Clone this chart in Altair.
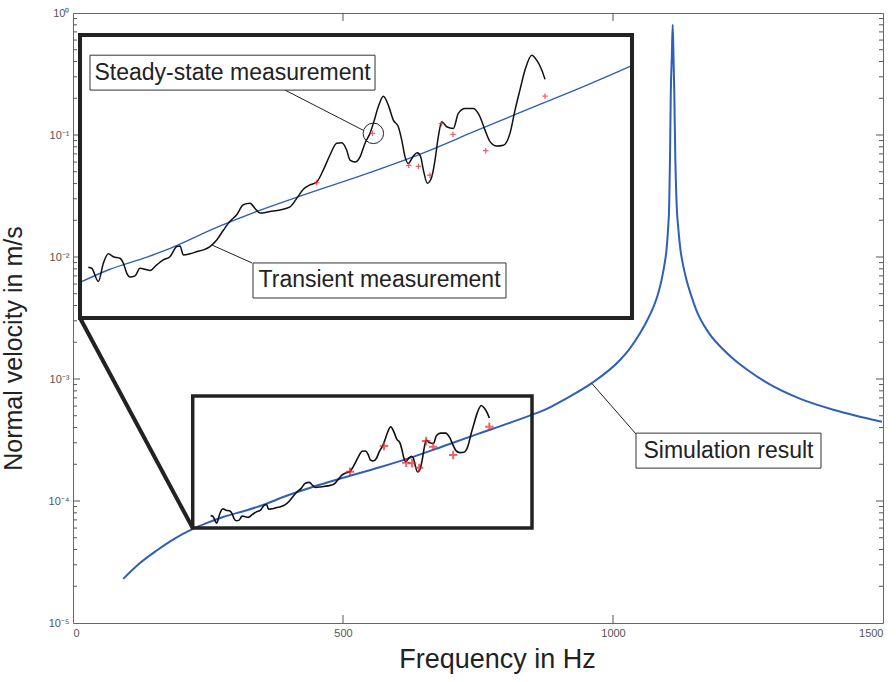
import altair as alt
import pandas as pd

# ---------------- data ----------------
# Simulation result (blue)
sim_freq = [93, 124, 155, 186, 222, 246, 278, 322, 340, 402,
            445, 500, 568, 630, 692, 750, 815, 862, 870, 914,
            960, 1013, 1030, 1050, 1062, 1075, 1083, 1090, 1095, 1099,
            1102, 1104, 1105.5, 1107, 1109, 1110.5, 1112, 1113.5, 1115.5, 1118,
            1121, 1125, 1130, 1136, 1145, 1155, 1177, 1200, 1223, 1250,
            1280, 1346, 1408, 1450, 1498]
sim_vel = [2.30e-5, 3.1e-5, 3.93e-5, 4.85e-5, 5.9e-5, 6.55e-5, 7.4e-5, 8.4e-5, 8.9e-5, 1.13e-4,
           1.31e-4, 1.55e-4, 1.89e-4, 2.30e-4, 2.88e-4, 3.55e-4, 4.47e-4, 5.33e-4, 5.5e-4, 6.95e-4,
           9.2e-4, 1.43e-3, 1.75e-3, 2.37e-3, 2.95e-3, 3.9e-3, 4.9e-3, 6.5e-3, 8.5e-3, 1.14e-2,
           1.7e-2, 2.6e-2, 0.062, 0.22, 0.45, 0.80, 0.45, 0.22, 0.062, 0.026,
           1.7e-2, 1.14e-2, 8.5e-3, 6.5e-3, 4.8e-3, 3.6e-3, 2.4e-3, 1.82e-3, 1.46e-3, 1.18e-3,
           9.6e-4, 6.9e-4, 5.6e-4, 5.0e-4, 4.47e-4]

# Transient measurement (black)
tr_freq = [254.9, 258.8, 266.2, 271.9, 277.5, 283.2, 290.7, 294.5, 298.3, 302.0,
           307.7, 313.3, 319.0, 324.6, 332.2, 339.7, 347.2, 354.8, 358.5, 362.3,
           369.8, 377.4, 384.9, 392.4, 400.0, 407.5, 415.0, 422.6, 430.1, 437.6,
           443.3, 448.9, 460.2, 471.5, 482.8, 490.4, 497.9, 505.4, 513.0, 520.5,
           528.0, 535.6, 541.3, 546.9, 550.6, 556.3, 562.0, 567.6, 573.2, 577.0,
           582.6, 588.3, 593.9, 599.6, 605.2, 609.1, 612.8, 616.5, 622.2, 626.7,
           630.5, 633.5, 638.0, 643.0, 646.7, 650.4, 654.3, 659.9, 667.4, 673.0,
           680.6, 690.0, 697.5, 703.2, 708.8, 716.4, 723.9, 731.4, 737.1, 742.7,
           748.4, 756.0, 761.6, 767.3, 771.0]
tr_vel = [7.59e-5, 7.51e-5, 6.59e-5, 7.89e-5, 8.65e-5, 8.41e-5, 8.28e-5, 7.89e-5, 7.16e-5, 6.89e-5,
          6.97e-5, 7.51e-5, 7.44e-5, 7.34e-5, 7.76e-5, 8.15e-5, 8.41e-5, 9.29e-5, 9.35e-5, 8.55e-5,
          8.65e-5, 8.83e-5, 8.99e-5, 9.29e-5, 9.91e-5, 1.09e-4, 1.19e-4, 1.27e-4, 1.40e-4, 1.42e-4,
          1.35e-4, 1.29e-4, 1.31e-4, 1.33e-4, 1.37e-4, 1.49e-4, 1.63e-4, 1.70e-4, 1.75e-4, 1.97e-4,
          2.28e-4, 2.56e-4, 2.57e-4, 2.39e-4, 2.17e-4, 2.13e-4, 2.24e-4, 2.56e-4, 2.82e-4, 3.11e-4,
          3.66e-4, 4.06e-4, 3.72e-4, 3.21e-4, 3.01e-4, 2.64e-4, 2.24e-4, 2.10e-4, 2.26e-4, 2.33e-4,
          2.24e-4, 1.97e-4, 1.73e-4, 1.84e-4, 2.17e-4, 2.73e-4, 3.16e-4, 3.01e-4, 2.96e-4, 3.43e-4,
          3.60e-4, 3.60e-4, 3.32e-4, 2.91e-4, 2.60e-4, 2.49e-4, 2.51e-4, 2.82e-4, 3.54e-4, 4.32e-4,
          5.25e-4, 6.07e-4, 5.78e-4, 5.25e-4, 4.79e-4]

# Steady-state measurement (red +)
ss_freq = [513, 576, 617, 628, 641, 654, 667, 704, 771]
ss_vel = [1.74e-4, 2.82e-4, 2.06e-4, 2.04e-4, 1.87e-4, 3.10e-4, 2.79e-4, 2.38e-4, 4.06e-4]

# axis ticks
x_major = [0, 500, 1000, 1500]
y_major = [1e-5, 1e-4, 1e-3, 1e-2, 1e-1, 1e0]
y_minor = [m * 10.0 ** e for e in range(-5, 0) for m in range(2, 10)]

# zoom window (small box on main axes) and inset domain
zoom_f = [221.7, 850]
zoom_v = [6.0e-5, 7.26e-4]
inset_f = [245.5, 869.3]
inset_v = [4.61e-5, 7.40e-4]

# annotation anchors
connector = dict(f1=13, v1=3.16e-3, f2=221.7, v2=6.0e-5)
sim_label = dict(text="Simulation result", f1=1042.6, f2=1385.2, v1=1.86e-4, v2=3.60e-4,
                 tf=1213.9, tv=2.57e-4, lf1=960.5, lv1=9.23e-4, lf2=1042.6, lv2=3.54e-4)
ss_label = dict(text="Steady-state measurement", f1=256.8, f2=578.9, v1=4.31e-4, v2=6.07e-4,
                tf=417.9, tv=5.12e-4, lf1=477.2, lv1=4.31e-4, lf2=565.3, lv2=2.91e-4)
tr_label = dict(text="Transient measurement", f1=441.0, f2=726.9, v1=5.61e-5, v2=7.91e-5,
                tf=584.0, tv=6.67e-5, lf1=439.9, lv1=7.91e-5, lf2=394.4, lv2=9.44e-5)
circled = dict(f=577, v=2.82e-4)

# ---------------- chart ----------------
W, H = 810, 610
FONT = "Liberation Sans"
BLUE = "#2f5fb8"
DARK = "#222222"
RED = "#e8232a"

sim_df = pd.DataFrame({"f": sim_freq, "v": sim_vel})
tr_df = pd.DataFrame({"f": tr_freq, "v": tr_vel})
ss_df = pd.DataFrame({"f": ss_freq, "v": ss_vel})

xs_main = alt.Scale(domain=[0, 1500], nice=False, zero=False)
ys_main = alt.Scale(type="log", domain=[1e-5, 1], nice=False)
xs_in = alt.Scale(domain=inset_f, nice=False, zero=False, range=[7, 559])
ys_in = alt.Scale(type="log", domain=inset_v, nice=False, range=[305, 22])

label_expr = ("datum.value >= 0.5 ? '10⁰' : datum.value >= 0.05 ? '10⁻¹' : "
              "datum.value >= 0.005 ? '10⁻²' : datum.value >= 0.0005 ? '10⁻³' : "
              "datum.value >= 0.00005 ? '10⁻⁴' : '10⁻⁵'")

x_axis = alt.Axis(title="Frequency in Hz", values=x_major, format="d", ticks=False, domain=False,
                  grid=False, labelFontSize=11, labelColor="#555", labelFont=FONT, labelPadding=4,
                  titleFont=FONT, titleFontSize=27, titleFontWeight="normal", titleColor=DARK,
                  titlePadding=8, titleX=424)
y_axis = alt.Axis(title="Normal velocity in m/s", values=y_major, labelExpr=label_expr,
                  ticks=False, domain=False, grid=False,
                  labelFontSize=11, labelColor="#555", labelFont=FONT, labelPadding=4,
                  titleFont=FONT, titleFontSize=25, titleFontWeight="normal", titleColor=DARK,
                  titlePadding=22, titleY=335)


def MX(field):
    return alt.X(f"{field}:Q", scale=xs_main, axis=x_axis)


def MY(field):
    return alt.Y(f"{field}:Q", scale=ys_main, axis=y_axis)


def IX(field):
    return alt.X(f"{field}:Q", scale=xs_in, axis=None)


def IY(field):
    return alt.Y(f"{field}:Q", scale=ys_in, axis=None)


plus = "M-1,0L1,0M0,-1L0,1"

# ---- main axes layers ----
sim_main = alt.Chart(sim_df).mark_line(color=BLUE, strokeWidth=2, interpolate="monotone").encode(
    x=MX("f"), y=MY("v"))
tr_main = alt.Chart(tr_df).mark_line(color="#111", strokeWidth=1.6, interpolate="monotone").encode(
    x=MX("f"), y=MY("v"))
ss_main = alt.Chart(ss_df).mark_point(shape=plus, size=70, filled=False, color=RED, strokeWidth=2).encode(
    x=MX("f"), y=MY("v"))

zoom_df = pd.DataFrame({"f1": [zoom_f[0]], "f2": [zoom_f[1]], "v1": [zoom_v[0]], "v2": [zoom_v[1]]})
zoom_box = alt.Chart(zoom_df).mark_rect(fill="white", fillOpacity=0, stroke=DARK, strokeWidth=3.5).encode(
    x=MX("f1"), x2="f2", y=MY("v1"), y2="v2")

conn_df = pd.DataFrame([connector])
conn = alt.Chart(conn_df).mark_rule(color=DARK, strokeWidth=4).encode(
    x=MX("f1"), y=MY("v1"), x2="f2", y2="v2")

sim_lab_df = pd.DataFrame([sim_label])
sim_leader = alt.Chart(sim_lab_df).mark_rule(color=DARK, strokeWidth=1).encode(
    x=MX("lf1"), y=MY("lv1"), x2="lf2", y2="lv2")
sim_box = alt.Chart(sim_lab_df).mark_rect(fill="white", stroke="#333", strokeWidth=1).encode(
    x=MX("f1"), x2="f2", y=MY("v1"), y2="v2")
sim_text = alt.Chart(sim_lab_df).mark_text(font=FONT, fontSize=23, color=DARK, align="center",
                                           baseline="middle").encode(
    x=MX("tf"), y=MY("tv"), text="text:N")

ymin_df = pd.DataFrame({"v": y_minor})
ymaj_df = pd.DataFrame({"v": y_major[1:-1]})
xmaj_df = pd.DataFrame({"f": x_major[1:-1]})
tick_col = "#555"
left_minor = alt.Chart(ymin_df).mark_rule(color=tick_col).encode(y=MY("v"), x=alt.value(0), x2=alt.value(4))
right_minor = alt.Chart(ymin_df).mark_rule(color=tick_col).encode(y=MY("v"), x=alt.value(W), x2=alt.value(W - 4))
left_major = alt.Chart(ymaj_df).mark_rule(color=tick_col).encode(y=MY("v"), x=alt.value(0), x2=alt.value(7))
right_major = alt.Chart(ymaj_df).mark_rule(color=tick_col).encode(y=MY("v"), x=alt.value(W), x2=alt.value(W - 7))
bottom_major = alt.Chart(xmaj_df).mark_rule(color=tick_col).encode(x=MX("f"), y=alt.value(H), y2=alt.value(H - 8))
top_major = alt.Chart(xmaj_df).mark_rule(color=tick_col).encode(x=MX("f"), y=alt.value(0), y2=alt.value(8))

main = alt.layer(sim_main, zoom_box, tr_main, ss_main, conn, sim_leader, sim_box, sim_text,
                 left_minor, right_minor, left_major, right_major, bottom_major, top_major)

# ---- inset layers ----
frame_df = pd.DataFrame({"f1": [inset_f[0]], "f2": [inset_f[1]], "v1": [inset_v[0]], "v2": [inset_v[1]]})
frame_fill = alt.Chart(frame_df).mark_rect(fill="white").encode(
    x=IX("f1"), x2="f2", y=IY("v1"), y2="v2")
frame_line = alt.Chart(frame_df).mark_rect(fill="white", fillOpacity=0, stroke=DARK, strokeWidth=4).encode(
    x=IX("f1"), x2="f2", y=IY("v1"), y2="v2")

sim_in = alt.Chart(sim_df).transform_filter(
    alt.FieldRangePredicate(field="f", range=[245, 870])
).mark_line(color=BLUE, strokeWidth=1.4, interpolate="monotone").encode(x=IX("f"), y=IY("v"))
tr_in = alt.Chart(tr_df).mark_line(color="#111", strokeWidth=1.5, interpolate="monotone").encode(
    x=IX("f"), y=IY("v"))
ss_in = alt.Chart(ss_df).mark_point(shape=plus, size=30, filled=False, color=RED, strokeWidth=1.3).encode(
    x=IX("f"), y=IY("v"))
circ_df = pd.DataFrame([circled])
circ = alt.Chart(circ_df).mark_point(shape="circle", size=420, filled=False, color=DARK, strokeWidth=1,
                                     opacity=1).encode(x=IX("f"), y=IY("v"))


def inset_label(d):
    df = pd.DataFrame([d])
    leader = alt.Chart(df).mark_rule(color=DARK, strokeWidth=1).encode(
        x=IX("lf1"), y=IY("lv1"), x2="lf2", y2="lv2")
    box = alt.Chart(df).mark_rect(fill="white", stroke="#333", strokeWidth=1).encode(
        x=IX("f1"), x2="f2", y=IY("v1"), y2="v2")
    txt = alt.Chart(df).mark_text(font=FONT, fontSize=23, color=DARK, align="center",
                                  baseline="middle").encode(x=IX("tf"), y=IY("tv"), text="text:N")
    return [leader, box, txt]


inset = alt.layer(frame_fill, sim_in, tr_in, ss_in, circ,
                  *inset_label(ss_label), *inset_label(tr_label), frame_line)

chart = alt.layer(main, inset).resolve_scale(x="independent", y="independent").properties(
    width=W, height=H,
    autosize=alt.AutoSizeParams(type="none"),
    padding={"left": 73, "top": 13, "right": 13, "bottom": 59},
    background="white",
).configure_view(stroke="#666", strokeWidth=1)

chart.save("out.html", embed_options={"renderer": "svg", "actions": False})
